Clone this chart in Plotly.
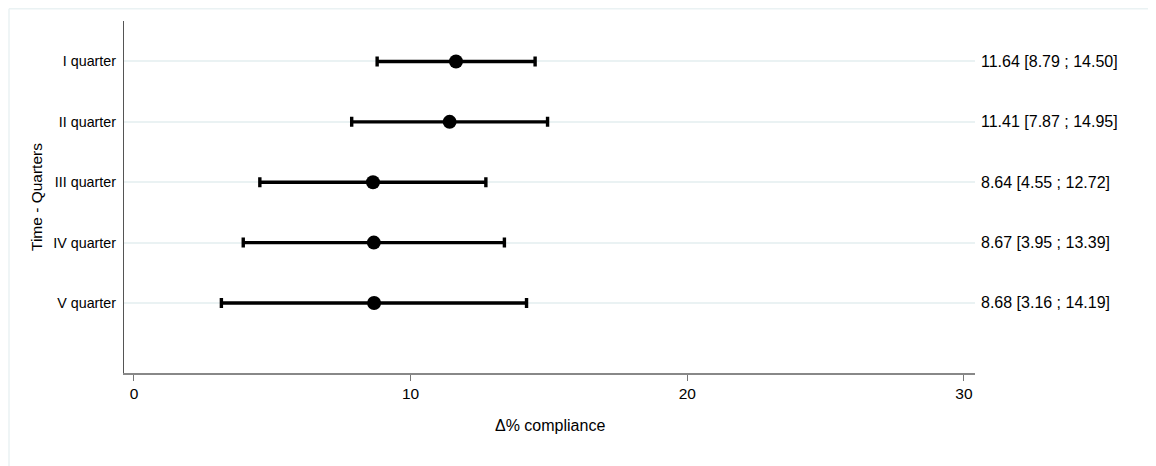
import plotly.graph_objects as go

categories = ["I quarter", "II quarter", "III quarter", "IV quarter", "V quarter"]
estimate = [11.64, 11.41, 8.64, 8.67, 8.68]
lower = [8.79, 7.87, 4.55, 3.95, 3.16]
upper = [14.50, 14.95, 12.72, 13.39, 14.19]
x_ticks = [0, 10, 20, 30]

positions = list(range(1, len(categories) + 1))
OFF = 8  # page body margin
W, H = 1156 - OFF, 466 - OFF
L, R, T, B = 124 - OFF, 975 - OFF, 21 - OFF, 373 - OFF

FAM = "Liberation Sans, Arial, sans-serif"
font = dict(family=FAM, size=15.5, color="#000000")
ytick_font = dict(family=FAM, size=14.3, color="#000000")
label_font = dict(family=FAM, size=16, color="#000000")

fig = go.Figure()
fig.add_trace(go.Scatter(
    x=estimate, y=positions, mode="markers",
    marker=dict(color="black", size=14),
    error_x=dict(type="data", symmetric=False,
                 array=[u - e for u, e in zip(upper, estimate)],
                 arrayminus=[e - l for e, l in zip(estimate, lower)],
                 color="black", thickness=3.4, width=5),
    showlegend=False, hoverinfo="skip",
))

def px_x(px):
    return (px - OFF - L) / (R - L)

def px_y(py):
    return (B - (py - OFF)) / (B - T)

annotations = []
for p, e, l, u in zip(positions, estimate, lower, upper):
    annotations.append(dict(
        x=px_x(979), xref="paper", y=p, yref="y",
        text=f"{e:.2f} [{l:.2f} ; {u:.2f}]", showarrow=False,
        xanchor="left", yanchor="middle", font=label_font,
    ))
annotations.append(dict(x=px_x(36), xref="paper", y=px_y(197), yref="paper",
                        text="Time - Quarters", textangle=-90, showarrow=False,
                        xanchor="center", yanchor="middle", font=font))
annotations.append(dict(x=0.5, xref="paper", y=px_y(425), yref="paper",
                        text="Δ% compliance", showarrow=False,
                        xanchor="center", yanchor="middle", font=label_font))

shapes = [
    dict(type="line", xref="paper", yref="paper", x0=px_x(9), x1=px_x(1170),
         y0=px_y(8.8), y1=px_y(8.8), line=dict(color="#eaf2f3", width=1.5)),
    dict(type="line", xref="paper", yref="paper", x0=px_x(9), x1=px_x(9),
         y0=px_y(8.8), y1=px_y(480), line=dict(color="#eaf2f3", width=1.5)),
]

fig.update_layout(
    width=W, height=H,
    margin=dict(l=L, r=W - R, t=T, b=H - B, pad=0),
    paper_bgcolor="white", plot_bgcolor="white",
    font=font,
    annotations=annotations, shapes=shapes,
    xaxis=dict(range=[-0.36, 30.4], tickvals=x_ticks, ticks="outside",
               ticklen=6, tickcolor="#777777", tickwidth=1,
               showline=True, linecolor="#888888", linewidth=1.5,
               showgrid=False, zeroline=False, tickfont=font,
               ticklabelstandoff=0),
    yaxis=dict(range=[6.16, 0.33], tickvals=positions, ticktext=categories,
               ticks="", showline=True, linecolor="#555555", linewidth=1.2,
               showgrid=True, gridcolor="#eaf2f3", gridwidth=1.5,
               zeroline=False, tickfont=ytick_font, ticklabelstandoff=4),
)

fig.write_html("out.html")
